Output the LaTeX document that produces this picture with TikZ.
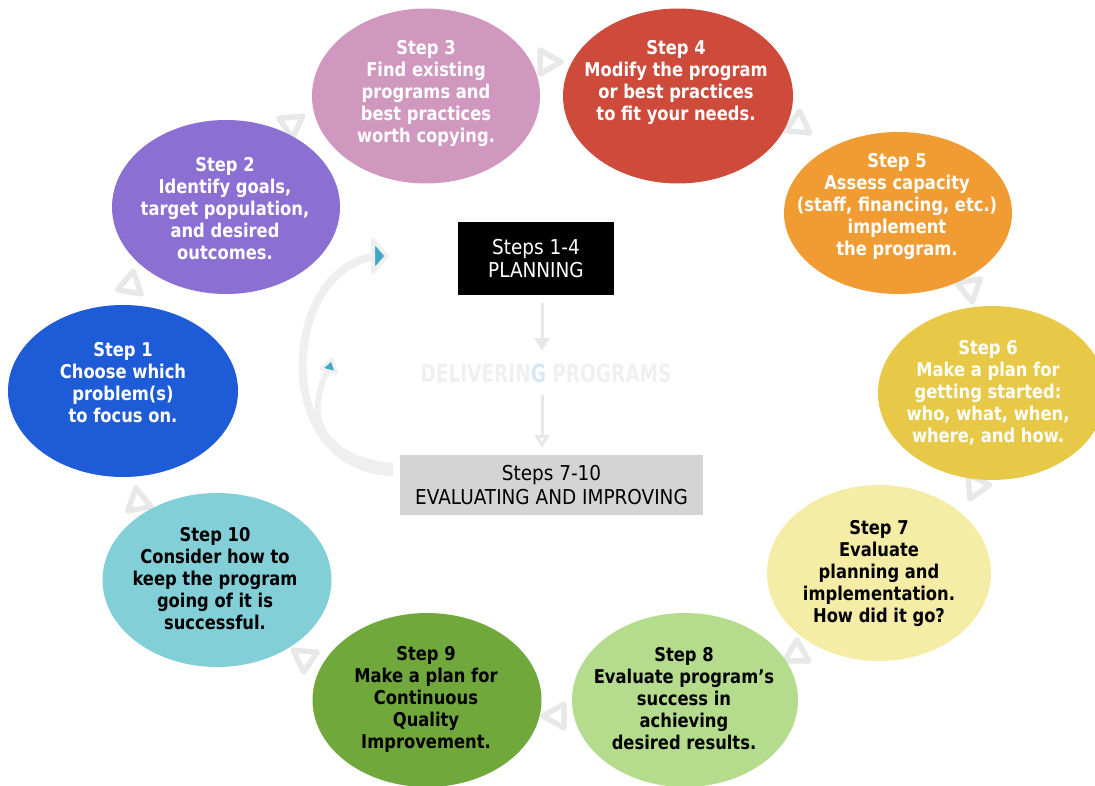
\documentclass[tikz,border=0pt]{standalone}
\usepackage{fontspec}
\setmainfont{DejaVu Sans}
\newfontfamily\stepfont{DejaVu Sans}[FakeStretch=0.86]
\newfontfamily\boxfont{DejaVu Sans}[FakeStretch=0.9]
\usepackage{graphicx}
\usetikzlibrary{shapes.geometric,arrows.meta}

\definecolor{cOne}{HTML}{1E5BD6}
\definecolor{cTwo}{HTML}{8B6FD2}
\definecolor{cThree}{HTML}{D097BF}
\definecolor{cFour}{HTML}{CE4A3B}
\definecolor{cFive}{HTML}{F09C33}
\definecolor{cSix}{HTML}{E8C947}
\definecolor{cSeven}{HTML}{F5EDA5}
\definecolor{cEight}{HTML}{B4DC8C}
\definecolor{cNine}{HTML}{71A83B}
\definecolor{cTen}{HTML}{83CFD8}
\definecolor{tipgray}{HTML}{E8E8E8}
\definecolor{bandgray}{HTML}{EFEFEF}
\definecolor{teal}{HTML}{3DA7C4}
\definecolor{boxgray}{HTML}{D4D4D4}
\definecolor{ghost}{HTML}{F0F0F0}
\definecolor{ghostblue}{HTML}{D6E8F2}

\tikzset{
  stepshape/.style={ellipse, draw=none, inner sep=0pt, minimum width=228pt, minimum height=174pt},
  steptext/.style={align=center, inner sep=0pt, font=\stepfont\bfseries\fontsize{19}{22}\selectfont},
  tipline/.style={draw=tipgray, line width=5.5pt, fill=white, line join=round},
  pics/flowtip/.style={code={\path[tipline] (-9,-12) -- (12,0) -- (-9,12) -- cycle;}},
  pics/tealtip/.style={code={\path[draw=bandgray, line width=4pt, fill=teal, line join=round] (-6,-16) -- (8,0) -- (-6,16) -- cycle;}},
  pics/smalltealtip/.style={code={\path[draw=bandgray, line width=3pt, fill=teal, line join=round] (-5,-8) -- (7,0) -- (-5,8) -- cycle;}},
  centrebox/.style={align=center, inner sep=0pt, font=\boxfont\fontsize{20.5}{23.5}\selectfont},
  softarrow/.style={draw=tipgray, line width=3pt},
}

\begin{document}
\begin{tikzpicture}[x=1pt,y=-1pt]
\useasboundingbox (0,0) rectangle (1095,786);
\fill[white] (0,0) rectangle (1095,786);

% arrow tips of the cycle, partly covered by the steps
\pic[rotate=80]   at (131,283) {flowtip};
\pic[rotate=35]   at (293,123) {flowtip};
\pic[rotate=0]    at (549,62)  {flowtip};
\pic[rotate=-35]  at (800,126) {flowtip};
\pic[rotate=-80]  at (970,290) {flowtip};
\pic[rotate=-115] at (975,488) {flowtip};
\pic[rotate=-150] at (795,655) {flowtip};
\pic[rotate=180]  at (555,716) {flowtip};
\pic[rotate=145]  at (303,657) {flowtip};
\pic[rotate=100]  at (138,500) {flowtip};

% the ten steps
\node[stepshape, fill=cOne,   minimum width=230pt, minimum height=172pt] (s1) at (123,391) {};
\node[stepshape, fill=cTwo]   (s2) at (226,207) {};
\node[stepshape, fill=cThree, minimum height=175pt] (s3) at (426,96) {};
\node[stepshape, fill=cFour,  minimum width=230pt, minimum height=175pt] (s4) at (678,96) {};
\node[stepshape, fill=cFive,  minimum height=162pt] (s5) at (898,213) {};
\node[stepshape, fill=cSix]   (s6) at (992,393) {};
\node[stepshape, fill=cSeven, minimum width=224pt, minimum height=176pt] (s7) at (879,573) {};
\node[stepshape, fill=cEight, minimum width=226pt] (s8) at (685,700) {};
\node[stepshape, fill=cNine,  minimum width=229pt] (s9) at (427,700) {};
\node[stepshape, fill=cTen,   minimum width=229pt] (s10) at (217,580) {};

\node[steptext, text=white] (t1) at (123,383) {Step 1\\Choose which\\problem(s)\\to focus on.};
\node[steptext, text=white] (t2) at (225,209) {Step 2\\Identify goals,\\target population,\\and desired\\outcomes.};
\node[steptext, text=white] (t3) at (426,94) {Step 3\\Find existing\\programs and\\best practices\\worth copying.};
\node[steptext, text=white] (t4) at (676,83) {Step 4\\Modify the program\\or best practices\\to fit your needs.};
\node[steptext, text=white] (t5) at (897,207) {Step 5\\Assess capacity\\(staff, financing, etc.)\\implement\\the program.};
\node[steptext, text=white] (t6) at (988,393) {Step 6\\Make a plan for\\getting started:\\who, what, when,\\where, and how.};
\node[steptext, text=black] (t7) at (879,573) {Step 7\\Evaluate\\planning and\\implementation.\\How did it go?};
\node[steptext, text=black] (t8) at (684,699) {Step 8\\Evaluate program’s\\success in\\achieving\\desired results.};
\node[steptext, text=black] (t9) at (426,699) {Step 9\\Make a plan for\\Continuous\\Quality\\Improvement.};
\node[steptext, text=black] (t10) at (215,579) {Step 10\\Consider how to\\keep the program\\going of it is\\successful.};

% centre: phases of delivering programs
\node[centrebox, fill=black, text=white, minimum width=156pt, minimum height=73pt] (plan) at (536,258.5) {Steps 1-4\\PLANNING};
\node[centrebox, fill=boxgray, text=black, minimum width=303pt, minimum height=60pt] (eval) at (551.5,485) {Steps 7-10\\EVALUATING AND IMPROVING};
\node[inner sep=0pt, font=\bfseries\fontsize{25}{25}\selectfont] (deliver) at (546,373)
  {\scalebox{0.74}[1]{\textcolor{ghost}{DELIVERIN}\textcolor{ghostblue}{G}\ \textcolor{ghost}{PROGRAMS}}};

\coordinate (pa) at (542,303);
\coordinate (pb) at (542,351);
\coordinate (ea) at (542,395);
\coordinate (eb) at (542,448);
\draw[softarrow, -{Triangle[length=13pt,width=15pt]}] (pa) -- (pb);
\draw[softarrow, -{Triangle[open,length=13pt,width=15pt]}] (ea) -- (eb);

% feedback loop from evaluation back to planning
\coordinate (loopA) at (393,472);
\coordinate (loopB) at (371,257);
\coordinate (loopC) at (393,466);
\coordinate (loopD) at (328,371);
\draw[draw=bandgray, line width=8pt] (loopA) .. controls (320,470) and (296,400) .. (304,345)
  .. controls (311,295) and (338,264) .. (loopB);
\draw[draw=bandgray, line width=6pt] (loopC) .. controls (345,462) and (314,438) .. (318,402)
  .. controls (320,388) and (323,379) .. (loopD);
\pic[rotate=0] at (379,256) {tealtip};
\pic[rotate=75] at (330,366) {smalltealtip};
\end{tikzpicture}
\end{document}
